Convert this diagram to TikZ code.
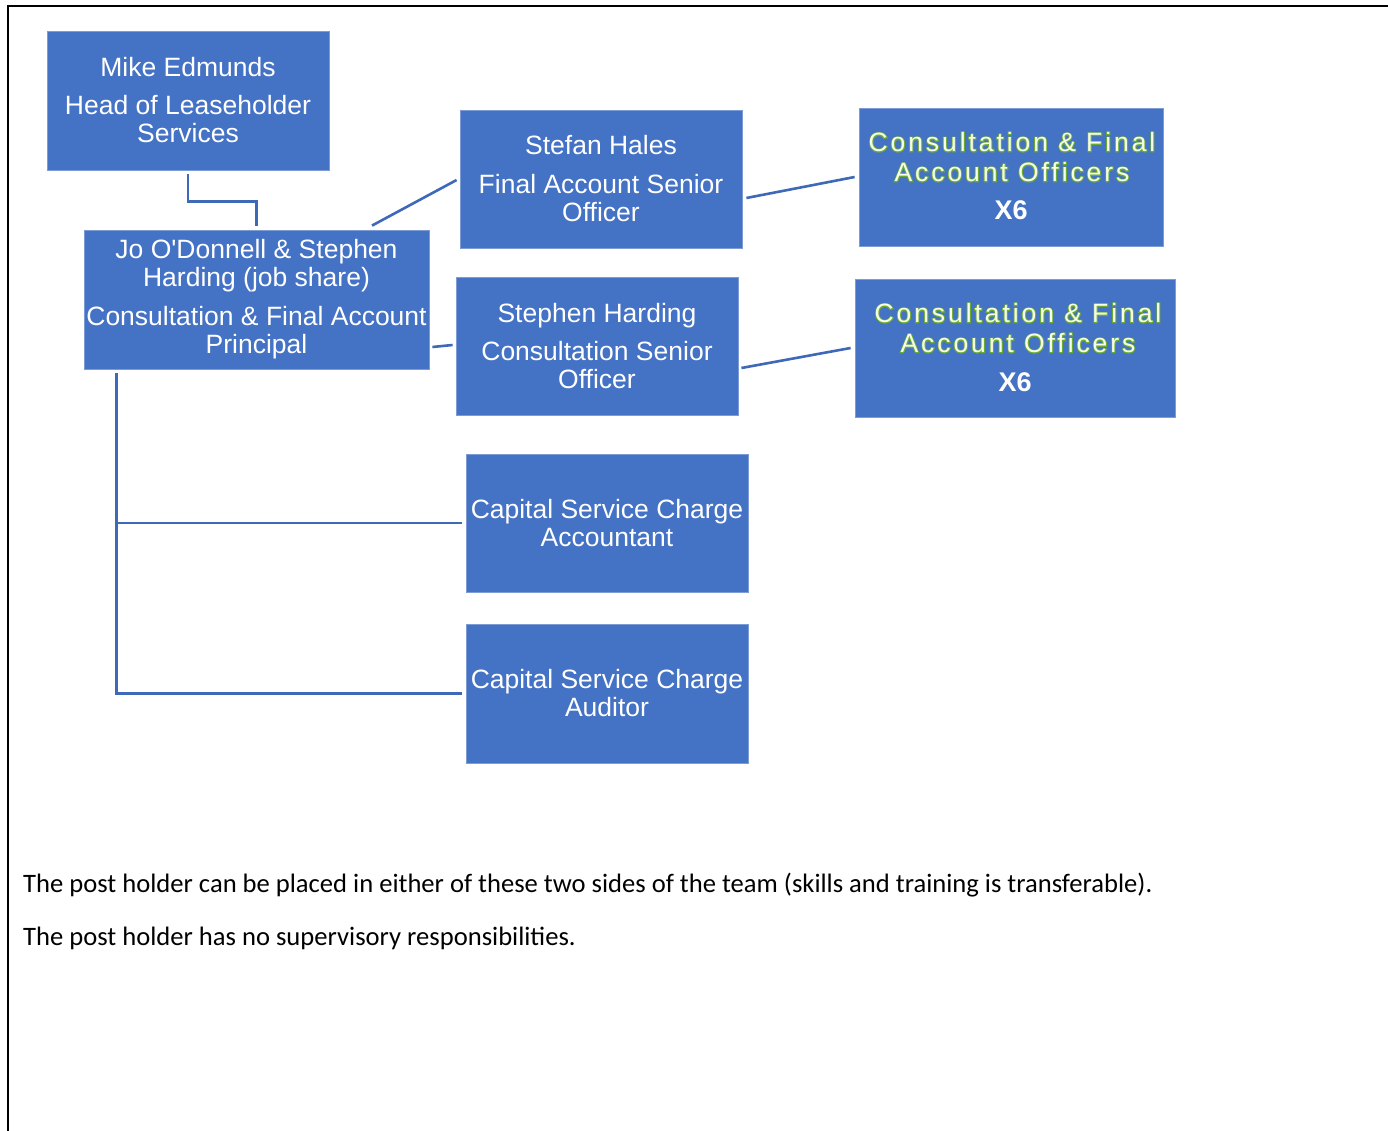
\documentclass[tikz,border=0pt]{standalone}
\usepackage{fontspec}
\setmainfont{Liberation Sans}
\newfontfamily\notefont{Carlito}
\newfontfamily\cfaofont[LetterSpace=11]{Liberation Sans}
\newfontfamily\cfaoglowfont[LetterSpace=11,FakeBold=7]{Liberation Sans}
\definecolor{boxblue}{RGB}{68,114,196}
\definecolor{boxedge}{RGB}{125,155,212}
\definecolor{connblue}{RGB}{62,104,184}
\definecolor{glowgreen}{RGB}{105,170,55}
\definecolor{paletext}{RGB}{246,253,232}
\tikzset{
  orgbox/.style={fill=boxblue, draw=boxedge, line width=0.8pt, inner sep=0pt,
    text=white, align=center, font=\fontsize{26.5}{28}\selectfont},
  conn/.style={draw=connblue, line width=2.6pt},
  glowtxt/.style={text=glowgreen, align=center, inner sep=0pt,
    font=\cfaoglowfont\fontsize{26.5}{30}\selectfont},
  paletxt/.style={text=paletext, align=center, inner sep=0pt,
    font=\cfaofont\fontsize{26.5}{30}\selectfont},
  xsix/.style={text=white, inner sep=0pt, font=\bfseries\fontsize{27}{30}\selectfont},
  note/.style={anchor=base west, inner sep=0pt, font=\notefont\fontsize{26.6}{30}\selectfont}
}
\begin{document}
\begin{tikzpicture}[x=1pt,y=-1pt]
\useasboundingbox (0,0) rectangle (1388,1131);
\draw[line width=2.5pt] (1388,6) -- (8,6) -- (8,1131);

\node[orgbox, minimum width=282pt, minimum height=139pt] (mike) at (188,100.5)
  {Mike Edmunds\\[10pt]Head of Leaseholder\\Services};
\node[orgbox, minimum width=345pt, minimum height=139pt] (jo) at (256.5,299.5)
  {Jo O\textquotesingle Donnell \& Stephen\\Harding (job share)\\[11pt]Consultation \& Final Account\\Principal};
\node[orgbox, minimum width=282pt, minimum height=138pt] (stefan) at (601,179)
  {Stefan Hales\\[11pt]Final Account Senior\\Officer};
\node[orgbox, minimum width=282pt, minimum height=138pt] (stephen) at (597,346)
  {Stephen Harding\\[10pt]Consultation Senior\\Officer};
\node[orgbox, minimum width=304pt, minimum height=138pt] (cfa1) at (1011,177) {};
\node[orgbox, minimum width=320pt, minimum height=138pt] (cfa2) at (1015,348) {};
\node[orgbox, minimum width=282pt, minimum height=138pt] (acct) at (607,523)
  {Capital Service Charge\\Accountant};
\node[orgbox, minimum width=282pt, minimum height=139pt] (aud) at (607,693.5)
  {Capital Service Charge\\Auditor};

\node[glowtxt] (cfa1glow) at (1012,157) {Consultation \& Final\\Account Officers};
\node[paletxt] (cfa1text) at (1012,157) {Consultation \& Final\\Account Officers};
\node[xsix] (cfa1x) at (1011,210) {X6};
\node[glowtxt] (cfa2glow) at (1018,328) {Consultation \& Final\\Account Officers};
\node[paletxt] (cfa2text) at (1018,328) {Consultation \& Final\\Account Officers};
\node[xsix] (cfa2x) at (1015,382) {X6};

\draw[conn] ([yshift=-4pt]mike.south) -- ++(0,27) -| ([yshift=4pt]jo.north);
\draw[conn] ([shift={(115.5pt,4pt)}]jo.north) -- ([shift={(-3pt,-1pt)}]stefan.west);
\draw[conn] ([shift={(3pt,-47.5pt)}]jo.east) -- ([shift={(-3pt,1pt)}]stephen.west);
\draw[conn] ([shift={(4pt,-19pt)}]stefan.east) -- ([xshift=-4pt]cfa1.west);
\draw[conn] ([shift={(3pt,-22pt)}]stephen.east) -- ([xshift=-4pt]cfa2.west);
\coordinate (trunk) at ([shift={(33pt,-4pt)}]jo.south west);
\draw[conn] (trunk) |- ([xshift=-4pt]aud.west);
\draw[conn] (trunk |- acct.west) -- ([xshift=-4pt]acct.west);

\node[note] (note1) at (23,892) {The post holder can be placed in either of these two sides of the team (skills and training is transferable).};
\node[note] (note2) at (23,945) {The post holder has no supervisory responsibilities.};
\end{tikzpicture}
\end{document}
